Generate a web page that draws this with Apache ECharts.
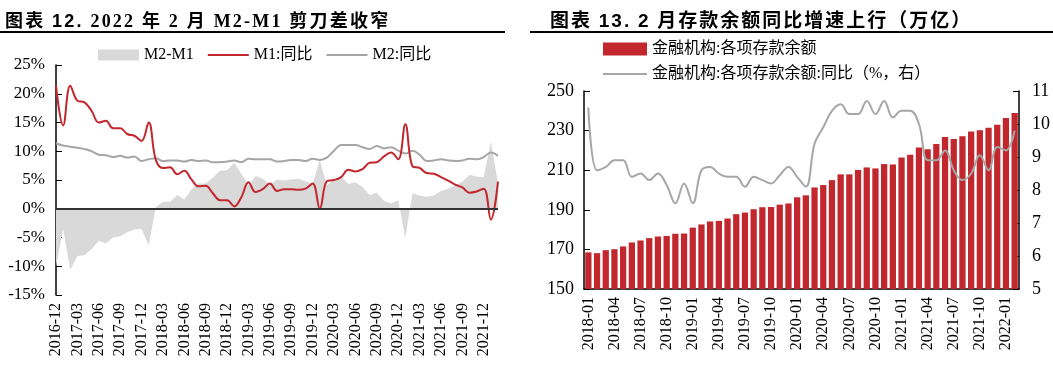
<!DOCTYPE html>
<html>
<head>
<meta charset="utf-8">
<script src="https://cdn.jsdelivr.net/npm/echarts@6/dist/echarts.min.js"></script>
<style>
  html, body { margin: 0; padding: 0; background: #fff; }
  .wrap { position: relative; width: 1053px; height: 377px; }
  #main { width: 1053px; height: 377px; }
  .ttl {
    position: absolute; top: 7px; white-space: nowrap;
    font-weight: bold; color: #000; line-height: 24px;
    font-family: "Liberation Serif", "Noto Sans CJK SC", serif;
  }
  .ttl .cjk { font-family: "Noto Sans CJK SC", sans-serif; }
  .ttl .sans { font-family: "Liberation Sans", Arial, sans-serif; }
  #t1 { left: 5px; font-size: 18px; letter-spacing: 2.2px; }
  #t2 { left: 550px; font-size: 19px; letter-spacing: 2px; }
  .rule { position: absolute; top: 31px; height: 2px; background: #000; }
</style>
</head>
<body>
<div class="wrap">
  <div id="main"></div>
  <div class="ttl" id="t1"><span class="cjk">图表</span> <span class="sans">12.</span> 2022 <span class="cjk">年</span> 2 <span class="cjk">月</span> M2-M1 <span class="cjk">剪刀差收窄</span></div>
  <div class="ttl" id="t2"><span class="cjk">图表</span> <span class="sans">13.</span> <span class="sans">2</span> <span class="cjk">月存款余额同比增速上行（万亿）</span></div>
  <div class="rule" style="left:0;width:505px"></div>
  <div class="rule" style="left:530px;width:523px"></div>
</div>
<script>
// 左图：M2-M1 剪刀差
const months1 = ['2016-12',
  '2017-01','2017-02','2017-03','2017-04','2017-05','2017-06','2017-07','2017-08','2017-09','2017-10','2017-11','2017-12',
  '2018-01','2018-02','2018-03','2018-04','2018-05','2018-06','2018-07','2018-08','2018-09','2018-10','2018-11','2018-12',
  '2019-01','2019-02','2019-03','2019-04','2019-05','2019-06','2019-07','2019-08','2019-09','2019-10','2019-11','2019-12',
  '2020-01','2020-02','2020-03','2020-04','2020-05','2020-06','2020-07','2020-08','2020-09','2020-10','2020-11','2020-12',
  '2021-01','2021-02','2021-03','2021-04','2021-05','2021-06','2021-07','2021-08','2021-09','2021-10','2021-11','2021-12',
  '2022-01','2022-02']
const m1 = [21.4,
  14.5, 21.4, 18.8, 18.5, 17.0, 15.0, 15.3, 14.0, 14.0, 13.0, 12.7, 11.8,
  15.0, 8.5, 7.1, 7.2, 6.0, 6.6, 5.1, 3.9, 4.0, 2.7, 1.5, 1.5,
  0.4, 2.0, 4.6, 2.9, 3.4, 4.4, 3.1, 3.4, 3.4, 3.3, 3.5, 4.4,
  0.0, 4.8, 5.0, 5.5, 6.8, 6.5, 6.9, 8.0, 8.1, 9.1, 9.8, 8.6,
  14.7, 7.4, 7.1, 6.2, 6.1, 5.5, 4.9, 4.2, 3.7, 2.8, 3.0, 3.5,
  -1.9, 4.7]
const m2 = [11.4,
  11.0, 10.8, 10.6, 10.4, 10.0, 9.4, 9.3, 9.0, 9.2, 8.9, 9.1, 8.3,
  8.6, 8.8, 8.3, 8.4, 8.4, 8.2, 8.5, 8.3, 8.4, 8.1, 8.1, 8.2,
  8.4, 8.1, 8.7, 8.6, 8.6, 8.6, 8.2, 8.3, 8.5, 8.5, 8.3, 8.7,
  8.5, 8.9, 10.1, 11.1, 11.1, 11.1, 10.7, 10.4, 10.9, 10.5, 10.7, 10.1,
  9.6, 10.1, 9.4, 8.3, 8.4, 8.6, 8.4, 8.3, 8.4, 8.7, 8.6, 9.0,
  9.8, 9.2]
const gap = [-10.1,
  -3.5, -10.6, -8.2, -8.1, -7.0, -5.6, -6.0, -5.0, -4.8, -4.1, -3.6, -3.5,
  -6.4, 0.3, 1.2, 1.2, 2.4, 1.6, 3.4, 4.4, 4.4, 5.4, 6.6, 6.7,
  8.0, 6.1, 4.1, 5.7, 5.2, 4.2, 5.1, 4.9, 5.1, 5.2, 4.8, 4.3,
  8.5, 4.1, 5.1, 5.6, 4.3, 4.6, 3.8, 2.4, 2.8, 1.4, 0.9, 1.5,
  -5.1, 2.7, 2.3, 2.1, 2.3, 3.1, 3.5, 4.1, 4.7, 5.9, 5.6, 5.5,
  11.7, 4.5]

// 右图：存款余额（万亿）及同比（%）
const months2 = [
  '2018-01','2018-02','2018-03','2018-04','2018-05','2018-06','2018-07','2018-08','2018-09','2018-10','2018-11','2018-12',
  '2019-01','2019-02','2019-03','2019-04','2019-05','2019-06','2019-07','2019-08','2019-09','2019-10','2019-11','2019-12',
  '2020-01','2020-02','2020-03','2020-04','2020-05','2020-06','2020-07','2020-08','2020-09','2020-10','2020-11','2020-12',
  '2021-01','2021-02','2021-03','2021-04','2021-05','2021-06','2021-07','2021-08','2021-09','2021-10','2021-11','2021-12',
  '2022-01','2022-02']
const deposit = [
  168.5, 168.1, 169.6, 170.1, 171.5, 173.5, 174.5, 175.7, 176.5, 176.8, 177.9, 178.0,
  181.0, 182.6, 184.1, 184.4, 185.6, 187.8, 188.6, 190.3, 191.3, 191.4, 192.6, 193.2,
  196.3, 197.3, 201.3, 202.5, 205.0, 207.9, 207.9, 210.1, 211.4, 210.9, 213.1, 212.9,
  216.4, 217.8, 221.5, 220.6, 223.2, 226.8, 225.8, 227.2, 229.5, 230.2, 231.5, 232.9,
  236.4, 238.9]
const depositYoy = [
  10.5, 8.6, 8.7, 8.9, 8.9, 8.4, 8.5, 8.3, 8.5, 8.15, 7.6, 8.2,
  7.6, 8.6, 8.7, 8.5, 8.4, 8.4, 8.1, 8.4, 8.3, 8.2, 8.45, 8.7,
  8.4, 8.1, 9.4, 9.9, 10.4, 10.6, 10.3, 10.3, 10.7, 10.3, 10.7, 10.2,
  10.4, 10.4, 10.0, 8.9, 8.9, 9.2, 8.6, 8.3, 8.5, 9.05, 8.6, 9.3,
  9.2, 9.8]

const serif = '"Liberation Serif", "Noto Sans CJK SC", serif'
const red = '#c1272d'
const grey = '#a6a6a6'
const lineIcon = 'path://M0,0 L40,0 L40,2 L0,2 Z'

const chart = echarts.init(document.getElementById('main'))

const axisText = { color: '#000', fontSize: 17, fontFamily: serif }

const option = {
  animation: false,
  legend: [
    {
      left: 98, top: 47, padding: 0,
      itemWidth: 41, itemHeight: 11, itemGap: 14,
      textStyle: { fontSize: 16, color: '#000', fontFamily: serif },
      data: [
        { name: 'M2-M1', icon: 'rect' },
        { name: 'M1:同比', icon: lineIcon },
        { name: 'M2:同比', icon: lineIcon }
      ]
    },
    {
      left: 603, top: 41, orient: 'vertical', padding: 0,
      itemWidth: 44, itemHeight: 13, itemGap: 9,
      textStyle: { fontSize: 16, color: '#000', fontFamily: serif },
      data: [
        { name: '金融机构:各项存款余额', icon: 'rect' },
        { name: '金融机构:各项存款余额:同比（%，右）', icon: lineIcon }
      ]
    }
  ],
  grid: [
    { left: 56, right: 555, top: 65, bottom: 82 },
    { left: 584, right: 34, top: 91, bottom: 88 }
  ],
  xAxis: [
    {
      type: 'category', gridIndex: 0, data: months1, boundaryGap: false,
      axisLine: { show: false },
      axisTick: { show: false },
      axisLabel: { ...axisText, fontSize: 16, rotate: 90, interval: 2, margin: 8 }
    },
    {
      type: 'category', gridIndex: 1, data: months2, boundaryGap: true,
      axisLine: { lineStyle: { color: '#000', width: 1.5 } },
      axisTick: { show: false },
      axisLabel: { ...axisText, fontSize: 16, rotate: 90, interval: 2, margin: 8 }
    }
  ],
  yAxis: [
    {
      type: 'value', gridIndex: 0, min: -15, max: 25, interval: 5,
      axisLine: { show: true, lineStyle: { color: '#000', width: 1.5 } },
      axisTick: { show: true, inside: true, length: 6, lineStyle: { color: '#000' } },
      axisLabel: { ...axisText, formatter: '{value}%', margin: 11 },
      splitLine: { show: false }
    },
    {
      type: 'value', gridIndex: 1, min: 150, max: 250, interval: 20,
      axisLine: { show: true, lineStyle: { color: '#000', width: 1.5 } },
      axisTick: { show: true, inside: true, length: 6, lineStyle: { color: '#000' } },
      axisLabel: { ...axisText, fontSize: 18, margin: 10 },
      splitLine: { show: false }
    },
    {
      type: 'value', gridIndex: 1, position: 'right', min: 5, max: 11, interval: 1,
      axisLine: { show: true, lineStyle: { color: '#000', width: 1.5 } },
      axisTick: { show: true, inside: true, length: 6, lineStyle: { color: '#000' } },
      axisLabel: { ...axisText, fontSize: 18, margin: 13 },
      splitLine: { show: false }
    }
  ],
  series: [
    {
      name: 'M2-M1', type: 'line', xAxisIndex: 0, yAxisIndex: 0,
      data: gap, symbol: 'none',
      lineStyle: { width: 0 },
      itemStyle: { color: '#d9d9d9' },
      areaStyle: { color: '#d9d9d9', opacity: 1 },
      markLine: {
        silent: true, symbol: ['none', 'none'],
        label: { show: false },
        lineStyle: { color: '#333', width: 2, type: 'solid' },
        data: [{ yAxis: 0 }]
      },
      z: 1
    },
    {
      name: 'M1:同比', type: 'line', xAxisIndex: 0, yAxisIndex: 0,
      data: m1, symbol: 'none', smooth: 0.4,
      lineStyle: { color: red, width: 2 },
      itemStyle: { color: red },
      z: 3
    },
    {
      name: 'M2:同比', type: 'line', xAxisIndex: 0, yAxisIndex: 0,
      data: m2, symbol: 'none', smooth: 0.4,
      lineStyle: { color: grey, width: 2 },
      itemStyle: { color: grey },
      z: 2
    },
    {
      name: '金融机构:各项存款余额', type: 'bar', xAxisIndex: 1, yAxisIndex: 1,
      data: deposit, barCategoryGap: '28%',
      itemStyle: { color: red }
    },
    {
      name: '金融机构:各项存款余额:同比（%，右）', type: 'line', xAxisIndex: 1, yAxisIndex: 2,
      data: depositYoy, symbol: 'none', smooth: 0.4,
      lineStyle: { color: grey, width: 2 },
      itemStyle: { color: grey },
      z: 3
    }
  ]
}

chart.setOption(option)
</script>
</body>
</html>
